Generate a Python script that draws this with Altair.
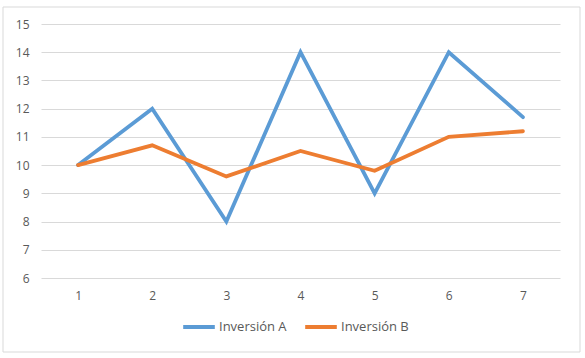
import altair as alt
import pandas as pd

periods = [1, 2, 3, 4, 5, 6, 7]
inversion_a = [10, 12, 8, 14, 9, 14, 11.7]
inversion_b = [10, 10.7, 9.6, 10.5, 9.8, 11.0, 11.2]
series_names = ["Inversión A", "Inversión B"]
colors = ["#5B9BD5", "#ED7D31"]

rows = []
for p, a, b in zip(periods, inversion_a, inversion_b):
    rows.append({"periodo": p, "valor": a, "serie": series_names[0]})
    rows.append({"periodo": p, "valor": b, "serie": series_names[1]})
df = pd.DataFrame(rows)

font = "Open Sans"
gray = "#595959"

border = alt.Chart(pd.DataFrame({"d": [0]})).mark_rect(
    fill=None, stroke="#D9D9D9", strokeWidth=1
).encode(
    x=alt.value(-38), x2=alt.value(539), y=alt.value(-17), y2=alt.value(328)
)

lines = alt.Chart(df).mark_line(strokeWidth=3.8, strokeCap="round", strokeJoin="miter").encode(
    x=alt.X("periodo:O", scale=alt.Scale(type="point", padding=0.5),
            axis=alt.Axis(title=None, labelAngle=0, domain=False, ticks=False, grid=False,
                          labelPadding=12, labelFont=font, labelFontSize=12, labelColor=gray)),
    y=alt.Y("valor:Q", scale=alt.Scale(domain=[6, 15], nice=False, zero=False),
            axis=alt.Axis(title=None, values=list(range(6, 16)), domain=False, ticks=False,
                          gridColor="#D9D9D9", gridWidth=1, labelPadding=12,
                          labelFont=font, labelFontSize=12, labelColor=gray)),
    color=alt.Color("serie:N", scale=alt.Scale(domain=series_names, range=colors),
                    legend=alt.Legend(title=None, orient="none", legendX=140, legendY=285,
                                      direction="horizontal", symbolType="stroke",
                                      symbolStrokeWidth=4, symbolSize=1000,
                                      labelFont=font, labelFontSize=13, labelColor=gray,
                                      columnPadding=10, labelOffset=2)),
)

chart = alt.layer(border, lines).properties(
    width=519, height=254,
    autosize=alt.AutoSizeParams(type="none"),
    padding={"left": 41, "top": 24, "right": 25, "bottom": 80},
    background="white",
).configure_view(stroke=None)

chart.save("out.html", embed_options={"renderer": "svg", "actions": False})
